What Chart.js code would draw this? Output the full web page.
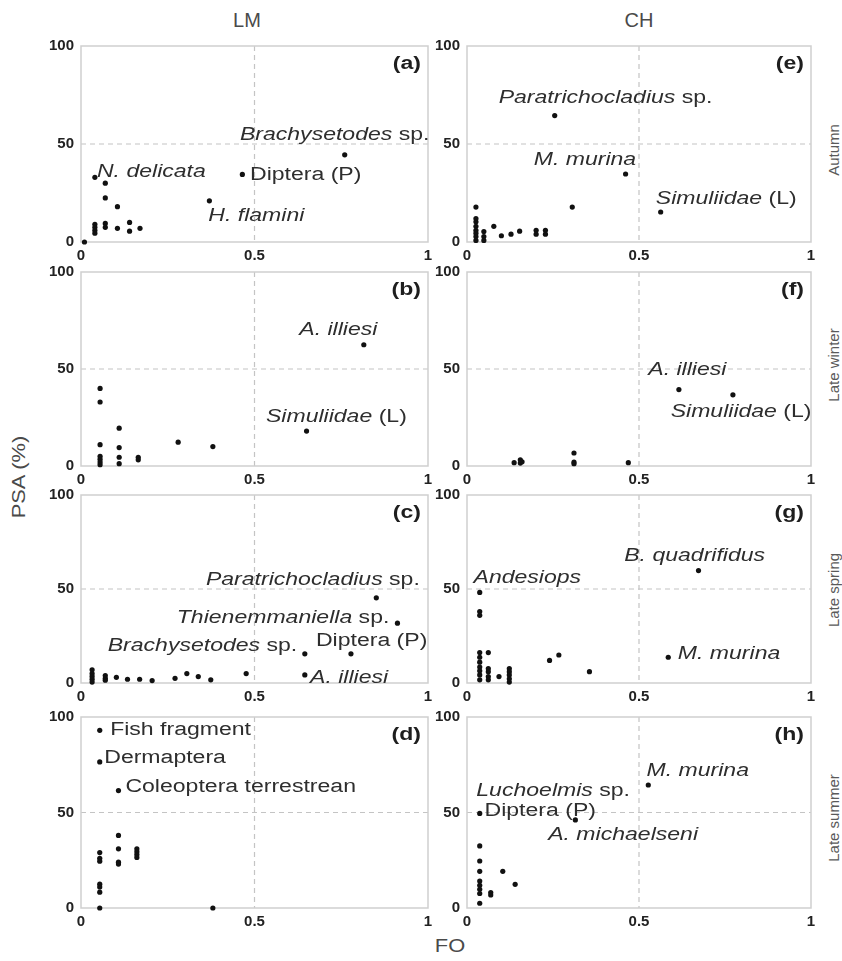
<!DOCTYPE html>
<html>
<head>
<meta charset="utf-8">
<script src="https://cdn.jsdelivr.net/npm/chart.js@4.4.1/dist/chart.umd.min.js"></script>
<style>
  body { margin: 0; background: #fff; width: 842px; height: 961px; position: relative; overflow: hidden;
         font-family: "Liberation Sans", Arial, sans-serif; }
  canvas { position: absolute; }
  .txt { position: absolute; color: #4a4a4a; white-space: nowrap; line-height: 1; }
</style>
</head>
<body>
<div class="txt" style="left:247px;top:20px;font-size:20px;transform:translate(-50%,-50%)">LM</div>
<div class="txt" style="left:639px;top:20px;font-size:20px;transform:translate(-50%,-50%)">CH</div>
<div class="txt" style="left:18px;top:477px;font-size:19px;transform:translate(-50%,-50%) rotate(-90deg) scaleX(1.15)">PSA (%)</div>
<div class="txt" style="left:450px;top:945px;font-size:19px;transform:translate(-50%,-50%) scaleX(1.15)">FO</div>
<div class="txt" style="left:833px;top:150px;font-size:15px;color:#5a5a5a;transform:translate(-50%,-50%) rotate(-90deg)">Autumn</div>
<div class="txt" style="left:833px;top:365px;font-size:15px;color:#5a5a5a;transform:translate(-50%,-50%) rotate(-90deg)">Late winter</div>
<div class="txt" style="left:833px;top:590px;font-size:15px;color:#5a5a5a;transform:translate(-50%,-50%) rotate(-90deg)">Late spring</div>
<div class="txt" style="left:833px;top:818px;font-size:15px;color:#5a5a5a;transform:translate(-50%,-50%) rotate(-90deg)">Late summer</div>

<script>
// FO (x) and PSA % (y) per panel
const foA  = [0.01, 0.04, 0.07, 0.07, 0.105, 0.04, 0.04, 0.04, 0.04, 0.07, 0.07, 0.105, 0.14, 0.14, 0.17, 0.37, 0.465, 0.76];
const psaA = [0, 33, 30, 22.5, 18, 9, 7.5, 6, 4.5, 9.5, 7.5, 7, 10, 5.5, 7, 21, 34.5, 44.5];

const foB  = [0.055, 0.055, 0.055, 0.055, 0.055, 0.055, 0.055, 0.11, 0.11, 0.11, 0.11, 0.165, 0.165, 0.28, 0.38, 0.65, 0.815];
const psaB = [40, 33, 11, 5, 3.5, 2, 0.7, 19.5, 9.5, 4.5, 1.2, 4.5, 3.2, 12.3, 10, 18, 62.5];

const foC  = [0.032, 0.032, 0.032, 0.032, 0.032, 0.07, 0.07, 0.07, 0.102, 0.134, 0.169, 0.205, 0.271, 0.305, 0.338, 0.374, 0.476, 0.645, 0.645, 0.778, 0.912, 0.851];
const psaC = [7, 5, 3.5, 2, 0.5, 4, 2.5, 1.5, 3, 2, 2, 1.3, 2.5, 5, 3.4, 1.7, 5, 15.5, 4.3, 15.5, 31.8, 45.3];

const foD  = [0.054, 0.054, 0.054, 0.054, 0.054, 0.054, 0.054, 0.054, 0.054, 0.108, 0.108, 0.108, 0.108, 0.108, 0.161, 0.161, 0.161, 0.161, 0.38];
const psaD = [93, 76.5, 29, 26, 24.5, 12.5, 11, 8.3, 0, 61.5, 38, 31, 24, 23, 31, 29.5, 28, 26.5, 0];

const foE  = [0.026, 0.026, 0.026, 0.026, 0.026, 0.026, 0.026, 0.026, 0.049, 0.049, 0.049, 0.078, 0.1, 0.128, 0.153, 0.201, 0.201, 0.228, 0.228, 0.306, 0.255, 0.461, 0.563];
const psaE = [17.8, 12, 10.3, 8, 6, 4.5, 2.8, 0.8, 5.3, 2.8, 0.8, 8, 3.2, 4, 5.5, 6, 4, 6, 4, 17.8, 64.5, 34.7, 15.3];

const foF  = [0.137, 0.155, 0.155, 0.16, 0.311, 0.311, 0.311, 0.469, 0.616, 0.773];
const psaF = [1.7, 1.5, 3.2, 2.2, 6.7, 2, 1.2, 1.7, 39.4, 36.7];

const foG  = [0.037, 0.037, 0.037, 0.037, 0.037, 0.037, 0.037, 0.037, 0.037, 0.037, 0.062, 0.062, 0.062, 0.062, 0.062, 0.093, 0.123, 0.123, 0.123, 0.123, 0.123, 0.24, 0.267, 0.356, 0.585, 0.673];
const psaG = [48.2, 38, 36, 16.2, 13.7, 11.1, 8.5, 6.5, 4.3, 1.7, 16.2, 7.7, 6, 3.4, 1.7, 3.4, 7.7, 6, 4.3, 2.2, 0.5, 12, 14.9, 6, 13.7, 59.8];

const foH  = [0.037, 0.037, 0.037, 0.037, 0.037, 0.037, 0.037, 0.037, 0.037, 0.069, 0.069, 0.104, 0.14, 0.315, 0.527];
const psaH = [49.5, 32.5, 24.6, 19.2, 14.1, 11.9, 9.8, 7.6, 2.5, 8.1, 6.8, 19.2, 12.4, 46.1, 64.4];

// axis ticks
const foTicks = [0, 0.5, 1];
const psaTicks = [0, 50, 100];

// taxon labels: [text, italic] pieces, anchored at (fo, psa) = left / middle of the text
const notesA = [
  { parts: [['Brachysetodes', true], [' sp.', false]], x: 0.458, y: 54.5 },
  { parts: [['N. delicata', true]], x: 0.046, y: 35.9 },
  { parts: [['Diptera (P)', false]], x: 0.487, y: 34.2 },
  { parts: [['H. flamini', true]], x: 0.367, y: 13.2 }
];
const notesB = [
  { parts: [['A. illiesi', true]], x: 0.629, y: 70 },
  { parts: [['Simuliidae', true], [' (L)', false]], x: 0.533, y: 25.2 }
];
const notesC = [
  { parts: [['Paratrichocladius', true], [' sp.', false]], x: 0.36, y: 54.7 },
  { parts: [['Thienemmaniella', true], [' sp.', false]], x: 0.276, y: 34.5 },
  { parts: [['Diptera (P)', false]], x: 0.677, y: 22.2 },
  { parts: [['Brachysetodes', true], [' sp.', false]], x: 0.077, y: 19.7 },
  { parts: [['A. illiesi', true]], x: 0.66, y: 2.6 }
];
const notesD = [
  { parts: [['Fish fragment', false]], x: 0.084, y: 93.2 },
  { parts: [['Dermaptera', false]], x: 0.067, y: 78.4 },
  { parts: [['Coleoptera terrestrean', false]], x: 0.128, y: 63.2 }
];
const notesE = [
  { parts: [['Paratrichocladius', true], [' sp.', false]], x: 0.092, y: 73.4 },
  { parts: [['M. murina', true]], x: 0.194, y: 41.9 },
  { parts: [['Simuliidae', true], [' (L)', false]], x: 0.549, y: 21.9 }
];
const notesF = [
  { parts: [['A. illiesi', true]], x: 0.527, y: 49.7 },
  { parts: [['Simuliidae', true], [' (L)', false]], x: 0.592, y: 28 }
];
const notesG = [
  { parts: [['Andesiops', true]], x: 0.019, y: 55.6 },
  { parts: [['B. quadrifidus', true]], x: 0.457, y: 67.5 },
  { parts: [['M. murina', true]], x: 0.613, y: 15.4 }
];
const notesH = [
  { parts: [['M. murina', true]], x: 0.522, y: 71.5 },
  { parts: [['Luchoelmis', true], [' sp.', false]], x: 0.027, y: 61.4 },
  { parts: [['Diptera (P)', false]], x: 0.051, y: 50.8 },
  { parts: [['A. michaelseni', true]], x: 0.236, y: 38.1 }
];

const STRETCH = 1.28;   // text in the figure is drawn wide
const FONT = '"Liberation Sans", Arial, sans-serif';

const panelText = {
  id: 'panelText',
  beforeDatasetsDraw(chart) {
    const { ctx, chartArea: a, scales: { x, y } } = chart;
    ctx.save();
    ctx.strokeStyle = '#c4c4c4';
    ctx.lineWidth = 1.2;
    ctx.setLineDash([5, 4]);
    const gx = x.getPixelForValue(0.5), gy = y.getPixelForValue(50);
    ctx.beginPath();
    ctx.moveTo(gx, a.top); ctx.lineTo(gx, a.bottom);
    ctx.moveTo(a.left, gy); ctx.lineTo(a.right, gy);
    ctx.stroke();
    ctx.setLineDash([]);
    ctx.strokeStyle = '#cfcfcf';
    ctx.lineWidth = 1.5;
    ctx.strokeRect(a.left, a.top, a.right - a.left, a.bottom - a.top);
    ctx.restore();
  },
  afterDatasetsDraw(chart, args, opts) {
    const { ctx, chartArea: a, scales: { x, y } } = chart;
    ctx.save();
    ctx.textBaseline = 'middle';
    ctx.fillStyle = '#2e2e2e';
    opts.notes.forEach(n => {
      ctx.save();
      ctx.translate(x.getPixelForValue(n.x), y.getPixelForValue(n.y));
      ctx.scale(STRETCH, 1);
      let cx = 0;
      n.parts.forEach(([s, it]) => {
        ctx.font = (it ? 'italic ' : '') + '18px ' + FONT;
        ctx.fillText(s, cx, 0);
        cx += ctx.measureText(s).width;
      });
      ctx.restore();
    });
    ctx.fillStyle = '#1e1e1e';
    ctx.textAlign = 'right';
    ctx.font = 'bold 18px ' + FONT;
    ctx.translate(a.right - 7, a.top + 18);
    ctx.scale(STRETCH, 1);
    ctx.fillText(opts.tag, 0, 0);
    ctx.restore();
  }
};

const cols = [{ left: 81, right: 428 }, { left: 467, right: 811 }];
const rows = [{ top: 40, bottom: 242 }, { top: 266, bottom: 466 }, { top: 489, bottom: 683 }, { top: 711, bottom: 908 }];
const Y_AXIS_W = 38, X_AXIS_H = 28, PAD_TOP = 10, PAD_RIGHT = 12;

function tickFont() {
  return { family: '"Liberation Sans", Arial, sans-serif', weight: 'bold', size: 15 };
}

function makePanel(col, row, fo, psa, notes, tag) {
  const c = cols[col], r = rows[row];
  const canvas = document.createElement('canvas');
  canvas.width = (c.right - c.left) + Y_AXIS_W + PAD_RIGHT;
  canvas.height = (r.bottom - r.top) + PAD_TOP + X_AXIS_H;
  canvas.style.left = (c.left - Y_AXIS_W) + 'px';
  canvas.style.top = (r.top - PAD_TOP) + 'px';
  document.body.appendChild(canvas);

  new Chart(canvas.getContext('2d'), {
    type: 'scatter',
    data: {
      datasets: [{
        data: fo.map((v, i) => ({ x: v, y: psa[i] })),
        pointRadius: 2.6,
        pointBackgroundColor: '#111',
        pointBorderWidth: 0,
        clip: false
      }]
    },
    options: {
      responsive: false,
      animation: false,
      layout: { padding: { top: PAD_TOP, right: PAD_RIGHT, left: 0, bottom: 0 } },
      plugins: {
        legend: { display: false },
        tooltip: { enabled: false },
        panelText: { notes: notes, tag: tag }
      },
      scales: {
        x: {
          type: 'linear', min: foTicks[0], max: foTicks[foTicks.length - 1],
          afterBuildTicks: s => { s.ticks = foTicks.map(v => ({ value: v })); },
          ticks: { padding: 5, color: '#222', font: tickFont(), maxRotation: 0, autoSkip: false,
                   callback: v => String(v) },
          grid: { display: false, drawTicks: false },
          border: { display: false },
          afterFit: s => { s.height = X_AXIS_H; }
        },
        y: {
          min: psaTicks[0], max: psaTicks[psaTicks.length - 1],
          afterBuildTicks: s => { s.ticks = psaTicks.map(v => ({ value: v })); },
          ticks: { padding: 7, color: '#222', font: tickFont(), autoSkip: false,
                   callback: v => String(v) },
          grid: { display: false, drawTicks: false },
          border: { display: false },
          afterFit: s => { s.width = Y_AXIS_W; }
        }
      }
    },
    plugins: [panelText]
  });
}

makePanel(0, 0, foA, psaA, notesA, '(a)');
makePanel(0, 1, foB, psaB, notesB, '(b)');
makePanel(0, 2, foC, psaC, notesC, '(c)');
makePanel(0, 3, foD, psaD, notesD, '(d)');
makePanel(1, 0, foE, psaE, notesE, '(e)');
makePanel(1, 1, foF, psaF, notesF, '(f)');
makePanel(1, 2, foG, psaG, notesG, '(g)');
makePanel(1, 3, foH, psaH, notesH, '(h)');
</script>
</body>
</html>
